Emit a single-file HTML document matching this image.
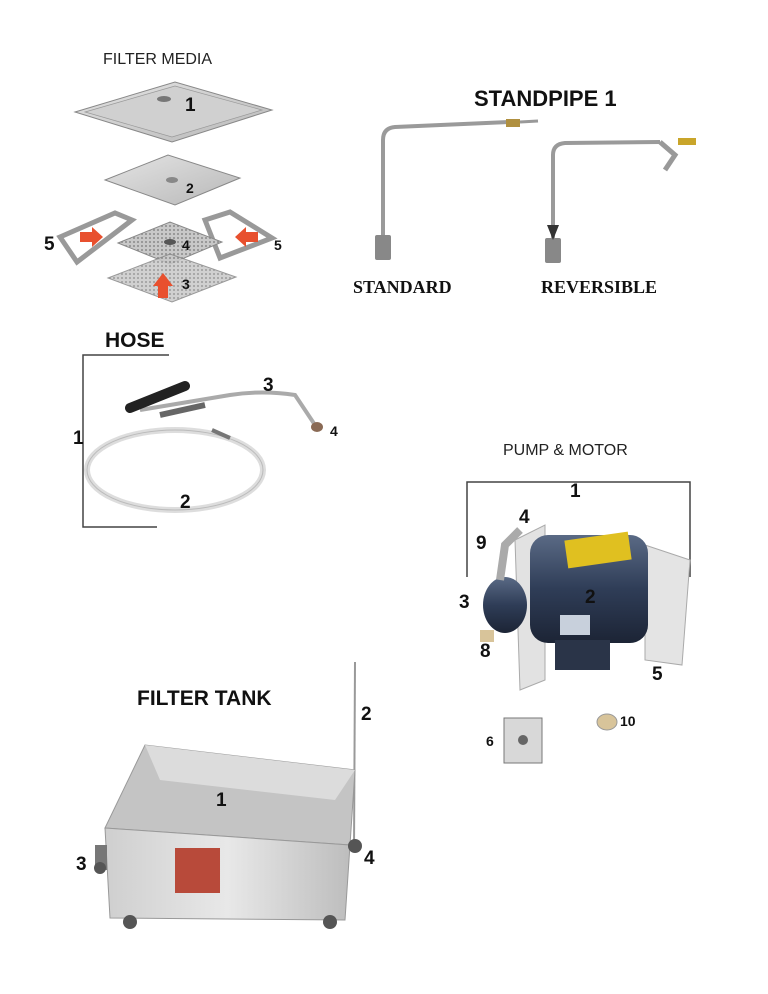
<!DOCTYPE html>
<html><head><meta charset="utf-8"><style>
html,body{margin:0;padding:0;background:#fff}
svg{display:block}
.l{font-family:"Liberation Sans",Arial,sans-serif;font-weight:bold;font-size:19px;fill:#111}
.s{font-family:"Liberation Sans",Arial,sans-serif;font-weight:bold;font-size:14px;fill:#111}
</style></head><body>
<svg width="768" height="994" viewBox="0 0 768 994" xmlns="http://www.w3.org/2000/svg">
<defs>
<linearGradient id="pl" x1="0" y1="0" x2="1" y2="1"><stop offset="0" stop-color="#e4e4e4"/><stop offset="1" stop-color="#b8b8b8"/></linearGradient>
<linearGradient id="mt" x1="0" y1="0" x2="0" y2="1"><stop offset="0" stop-color="#5a6a85"/><stop offset="0.5" stop-color="#2f3d57"/><stop offset="1" stop-color="#1c2435"/></linearGradient>
<linearGradient id="tk" x1="0" y1="0" x2="1" y2="0"><stop offset="0" stop-color="#cfcfcf"/><stop offset="0.5" stop-color="#e8e8e8"/><stop offset="1" stop-color="#bdbdbd"/></linearGradient>
<pattern id="mesh" width="4" height="4" patternUnits="userSpaceOnUse"><rect width="4" height="4" fill="#c8c8c8"/><circle cx="2" cy="2" r="1" fill="#8a8a8a"/></pattern>
</defs>

<!-- FILTER MEDIA -->
<text x="103" y="64" font-family="Liberation Sans,Arial,sans-serif" font-size="16" fill="#222">FILTER MEDIA</text>
<polygon points="75,112 175,82 272,110 172,142" fill="url(#pl)" stroke="#888"/>
<polygon points="85,112 175,86 262,110 172,137" fill="#d0d0d0" stroke="#999" stroke-width="0.7"/>
<ellipse cx="164" cy="99" rx="7" ry="3" fill="#777"/>
<text x="185" y="111" class="l">1</text>

<polygon points="105,180 168,155 240,178 175,205" fill="url(#pl)" stroke="#888"/>
<ellipse cx="172" cy="180" rx="6" ry="3" fill="#888"/>
<text x="186" y="193" class="s">2</text>

<polygon points="60,237 115,213 132,220 77,262" fill="none" stroke="#999" stroke-width="5"/>
<polygon points="205,220 230,212 272,238 220,258" fill="none" stroke="#999" stroke-width="5"/>
<polygon points="118,243 170,222 222,242 170,264" fill="url(#mesh)" stroke="#888"/>
<ellipse cx="170" cy="242" rx="6" ry="3" fill="#555"/>
<text x="182" y="250" class="s">4</text>
<polygon points="108,278 170,254 236,277 172,302" fill="url(#mesh)" stroke="#888" opacity="0.85"/>
<text x="182" y="289" class="s">3</text>

<polygon points="80,232 92,232 92,227 103,237 92,247 92,242 80,242" fill="#e8502e"/>
<polygon points="258,232 246,232 246,227 235,237 246,247 246,242 258,242" fill="#e8502e"/>
<polygon points="158,298 158,286 153,286 163,273 173,286 168,286 168,298" fill="#e8502e"/>
<text x="44" y="250" class="l">5</text>
<text x="274" y="250" class="s">5</text>

<!-- STANDPIPE -->
<text x="474" y="106" font-family="Liberation Sans,Arial,sans-serif" font-weight="bold" font-size="22" fill="#111">STANDPIPE  1</text>
<path d="M383,235 L383,140 Q383,128 395,127 L510,122" fill="none" stroke="#9a9a9a" stroke-width="4"/>
<rect x="506" y="119" width="14" height="8" fill="#b09040"/>
<line x1="520" y1="122" x2="538" y2="121" stroke="#999" stroke-width="3"/>
<rect x="375" y="235" width="16" height="25" rx="2" fill="#888"/>
<path d="M553,238 L553,155 Q553,144 565,143 L660,142" fill="none" stroke="#9a9a9a" stroke-width="4"/>
<path d="M660,142 L675,155 L665,170" fill="none" stroke="#999" stroke-width="5"/>
<rect x="678" y="138" width="18" height="7" fill="#c9a52a"/>
<rect x="545" y="238" width="16" height="25" rx="2" fill="#888"/>
<polygon points="547,225 553,240 559,225" fill="#333"/>
<text x="353" y="293" font-family="Liberation Serif,serif" font-weight="bold" font-size="18" fill="#111">STANDARD</text>
<text x="541" y="293" font-family="Liberation Serif,serif" font-weight="bold" font-size="18" fill="#111">REVERSIBLE</text>

<!-- HOSE -->
<text x="105" y="347" font-family="Liberation Sans,Arial,sans-serif" font-weight="bold" font-size="21" fill="#111">HOSE</text>
<path d="M169,355 L83,355 L83,527 L157,527" fill="none" stroke="#444" stroke-width="1.5"/>
<text x="73" y="444" class="l">1</text>
<ellipse cx="175" cy="470" rx="88" ry="40" fill="none" stroke="#ddd" stroke-width="6"/>
<ellipse cx="175" cy="470" rx="88" ry="40" fill="none" stroke="#bbb" stroke-width="1"/>
<path d="M140,410 L230,395 Q262,390 295,395 L315,425" fill="none" stroke="#aaa" stroke-width="4"/>
<line x1="130" y1="408" x2="185" y2="386" stroke="#222" stroke-width="10" stroke-linecap="round"/>
<line x1="160" y1="415" x2="205" y2="405" stroke="#666" stroke-width="6"/>
<line x1="212" y1="430" x2="230" y2="438" stroke="#777" stroke-width="4"/>
<ellipse cx="317" cy="427" rx="6" ry="5" fill="#8a6a55"/>
<text x="263" y="391" class="l">3</text>
<text x="330" y="436" class="s">4</text>
<text x="180" y="508" class="l">2</text>

<!-- PUMP & MOTOR -->
<text x="503" y="455" font-family="Liberation Sans,Arial,sans-serif" font-size="16" fill="#222">PUMP &amp; MOTOR</text>
<path d="M467,577 L467,482 L690,482 L690,577" fill="none" stroke="#444" stroke-width="1.5"/>
<text x="570" y="497" class="l">1</text>
<polygon points="515,540 545,525 545,680 520,690" fill="#e2e2e2" stroke="#aaa"/>
<polygon points="645,545 690,560 682,665 645,660" fill="#e4e4e4" stroke="#aaa"/>
<rect x="530" y="535" width="118" height="108" rx="18" fill="url(#mt)"/>
<rect x="566" y="536" width="64" height="28" fill="#e0c020" transform="rotate(-8 598 550)"/>
<rect x="560" y="615" width="30" height="20" fill="#c8d0dc"/>
<rect x="555" y="640" width="55" height="30" fill="#2a3448"/>
<ellipse cx="505" cy="605" rx="22" ry="28" fill="url(#mt)"/>
<path d="M500,580 L505,545 L520,530" fill="none" stroke="#aaa" stroke-width="8"/>
<rect x="480" y="630" width="14" height="12" fill="#d8c49a"/>
<text x="519" y="523" class="l">4</text>
<text x="476" y="549" class="l">9</text>
<text x="459" y="608" class="l">3</text>
<text x="585" y="603" class="l">2</text>
<text x="480" y="657" class="l">8</text>
<text x="652" y="680" class="l">5</text>
<rect x="504" y="718" width="38" height="45" fill="#d8d8d8" stroke="#777"/>
<circle cx="523" cy="740" r="5" fill="#666"/>
<text x="486" y="746" class="s">6</text>
<ellipse cx="607" cy="722" rx="10" ry="8" fill="#d8c49a" stroke="#999"/>
<text x="620" y="726" class="s">10</text>

<!-- FILTER TANK -->
<text x="137" y="705" font-family="Liberation Sans,Arial,sans-serif" font-weight="bold" font-size="21" fill="#111">FILTER TANK</text>
<line x1="355" y1="662" x2="354" y2="850" stroke="#999" stroke-width="2"/>
<polygon points="105,828 145,745 355,770 350,845" fill="#c4c4c4" stroke="#999"/>
<polygon points="105,828 350,845 345,920 110,918" fill="url(#tk)" stroke="#999"/>
<polygon points="145,745 355,770 335,800 160,780" fill="#dcdcdc"/>
<rect x="175" y="848" width="45" height="45" fill="#b84a3a"/>
<rect x="95" y="845" width="12" height="25" fill="#777"/>
<circle cx="100" cy="868" r="6" fill="#555"/>
<circle cx="355" cy="846" r="7" fill="#555"/>
<circle cx="330" cy="922" r="7" fill="#555"/>
<circle cx="130" cy="922" r="7" fill="#555"/>
<text x="361" y="720" class="l">2</text>
<text x="216" y="806" class="l">1</text>
<text x="76" y="870" class="l">3</text>
<text x="364" y="864" class="l">4</text>
</svg>
</body></html>
